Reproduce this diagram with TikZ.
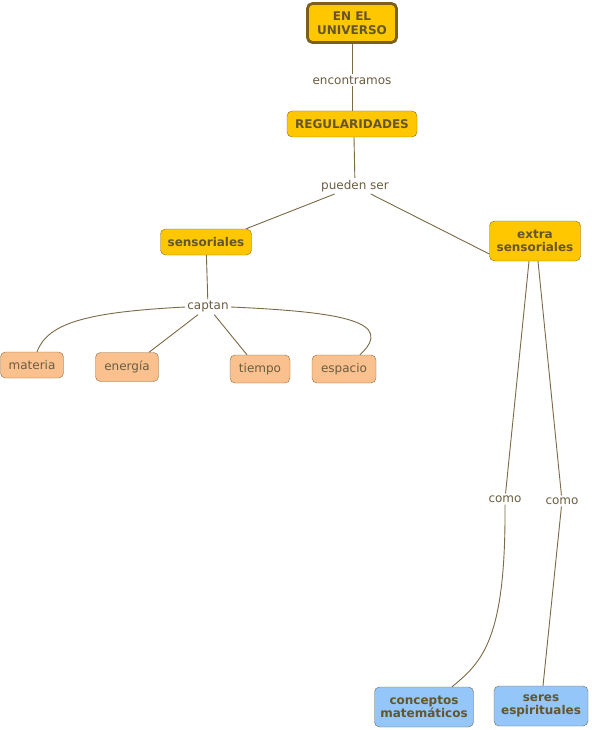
\documentclass[tikz,border=0pt]{standalone}
\usepackage{fontspec}
\setmainfont{DejaVu Sans}
\begin{document}
\begin{tikzpicture}[x=1pt,y=-1pt,
  every node/.style={font=\fontsize{12}{13.5}\selectfont},
  txt/.style={text=labtext, inner sep=2pt},
  concept/.style={draw=gboxline, rounded corners=5pt, align=center, font=\fontsize{12}{13.5}\selectfont\bfseries, text=btext, inner sep=1pt},
  gold/.style={concept, fill=goldfill},
  peach/.style={draw=pboxline, rounded corners=5pt, fill=peachfill, text=labtext, inner sep=1pt},
  blue/.style={concept, fill=bluefill, draw=bboxline},
  link/.style={draw=linec, line width=0.9pt}
]
\definecolor{goldfill}{HTML}{FFC700}
\definecolor{gboxline}{HTML}{8A6A1C}
\definecolor{peachfill}{HTML}{FAC08E}
\definecolor{pboxline}{HTML}{8A6A3A}
\definecolor{bluefill}{HTML}{94C6F9}
\definecolor{bboxline}{HTML}{6E6A55}
\definecolor{btext}{HTML}{65552A}
\definecolor{labtext}{HTML}{6B5D40}
\definecolor{linec}{HTML}{7A6A45}
\useasboundingbox (0,0) rectangle (591,730);
\fill[white] (0,0) rectangle (591,730);

\node[gold, line width=2.8pt, draw=gboxline!90!black, minimum width=89pt, minimum height=39pt] (univ) at (352,23) {EN EL\\UNIVERSO};
\node[txt] (enc) at (352,80) {encontramos};
\node[gold, minimum width=130pt, minimum height=26pt] (reg) at (352,124) {REGULARIDADES};
\node[txt] (pueden) at (355,186) {pueden ser};
\node[gold, minimum width=91pt, minimum height=26pt] (sens) at (206,242) {sensoriales};
\node[gold, minimum width=91pt, minimum height=40pt] (extra) at (535,241) {extra\\sensoriales};
\node[txt] (captan) at (208,307) {captan};
\node[peach, minimum width=63pt, minimum height=26pt] (mat) at (32,365) {materia};
\node[peach, minimum width=63pt, minimum height=29pt] (ene) at (127,367) {energía};
\node[peach, minimum width=60pt, minimum height=28pt] (tie) at (260,369) {tiempo};
\node[peach, minimum width=64pt, minimum height=28pt] (esp) at (344,369) {espacio};
\node[txt] (como1) at (505,499) {como};
\node[txt] (como2) at (562,501) {como};
\node[blue, minimum width=99pt, minimum height=40pt] (conc) at (424,707) {conceptos\\matemáticos};
\node[blue, minimum width=94pt, minimum height=40pt] (seres) at (541,706) {seres\\espirituales};

\draw[link] (univ) -- (enc);
\draw[link] (enc) -- (reg);
\draw[link] ([xshift=2pt]reg.south) -- (pueden);
\draw[link] (pueden) -- ([xshift=40pt]sens.north);
\draw[link] (pueden) -- ([yshift=-13pt]extra.west);
\draw[link] (sens) -- (captan);
\draw[link] (captan.west) .. controls (90,312) and (48,322) .. ([xshift=5pt]mat.north);
\draw[link] (captan) -- ([xshift=22pt]ene.north);
\draw[link] (captan) -- ([xshift=-13pt]tie.north);
\draw[link] (captan.east) .. controls (345,312) and (395,322) .. ([xshift=16pt]esp.north);
\draw[link] ([xshift=-6pt]extra.south) -- (como1);
\draw[link] ([xshift=3pt]extra.south) -- (como2);
\draw[link] (como1.south) .. controls (506,640) and (482,662) .. ([xshift=28pt]conc.north);
\draw[link] (como2) -- ([xshift=2pt]seres.north);
\end{tikzpicture}
\end{document}
